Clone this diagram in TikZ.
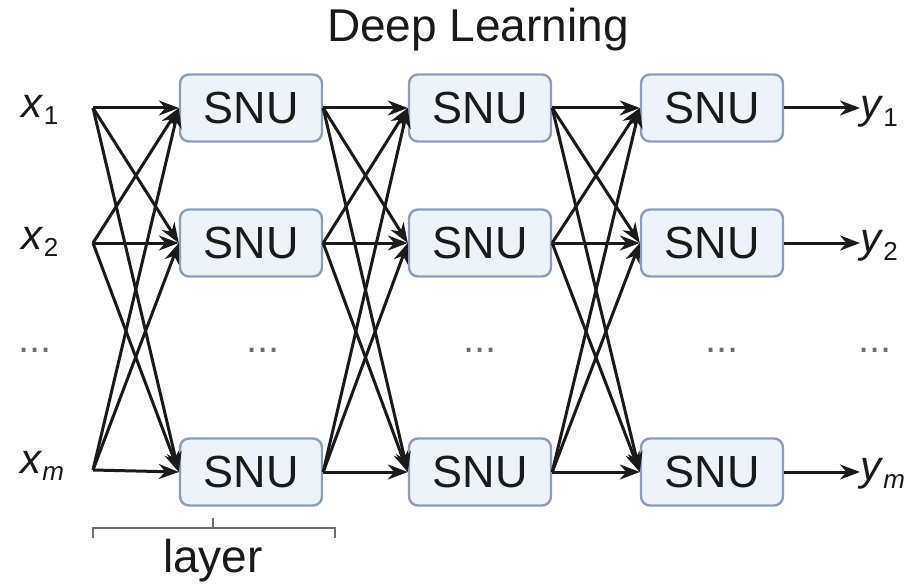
\documentclass[tikz,border=0pt]{standalone}
\usepackage{fontspec}
\setmainfont{Liberation Sans}
\usetikzlibrary{arrows.meta}
\definecolor{boxfill}{HTML}{EEF3FA}
\definecolor{boxedge}{HTML}{8C9DB5}
\definecolor{ink}{HTML}{1A1A1A}
\definecolor{dotgray}{HTML}{6E6E6E}
\newcommand\sublbl[2]{\textit{#1}\raisebox{-0.35ex}{\fontsize{26}{26}\selectfont #2}}
\begin{document}
\begin{tikzpicture}[x=1pt,y=-1pt,
  snu/.style={draw=boxedge, fill=boxfill, line width=2.4pt, rounded corners=9pt,
    minimum width=142pt, minimum height=67pt, inner sep=0pt, text=ink,
    font=\fontsize{45}{45}\selectfont},
  conn/.style={draw=ink, line width=3pt, -{Stealth[length=20pt,width=15pt]}},
  iolabel/.style={inner sep=0pt, text=ink, font=\fontsize{42}{42}\selectfont},
  dots/.style={inner sep=0pt, text=dotgray, font=\fontsize{40}{40}\selectfont},
  brace/.style={draw=dotgray, line width=1.8pt}
]
\useasboundingbox (0,0) rectangle (914,586);

% title
\node[inner sep=0pt, text=ink, font=\fontsize{46}{46}\selectfont] (title) at (478,30) {Deep Learning};

% inputs
\node[iolabel] (xl1) at (40,110) {\sublbl{x}{1}};
\node[iolabel] (xl2) at (40,242) {\sublbl{x}{2}};
\node[iolabel] (xlm) at (42,466) {\sublbl{x}{\textit{m}}};
\coordinate (in1) at (93,108);
\coordinate (in2) at (93,243);
\coordinate (inm) at (93,470);

% three layers of SNU boxes
\node[snu] (a1) at (251,108) {SNU};
\node[snu] (a2) at (251,243) {SNU};
\node[snu] (am) at (251,472) {SNU};
\node[snu] (b1) at (480,108) {SNU};
\node[snu] (b2) at (480,243) {SNU};
\node[snu] (bm) at (480,472) {SNU};
\node[snu] (c1) at (712,108) {SNU};
\node[snu] (c2) at (712,243) {SNU};
\node[snu] (cm) at (712,472) {SNU};

% outputs
\node[iolabel, anchor=west] (yl1) at (860,112) {\sublbl{y}{1}};
\node[iolabel, anchor=west] (yl2) at (860,246) {\sublbl{y}{2}};
\node[iolabel, anchor=west] (ylm) at (860,474) {\sublbl{y}{\textit{m}}};

% ellipsis row
\node[dots] (d0) at (35,350) {...};
\node[dots] (d1) at (263,350) {...};
\node[dots] (d2) at (480,350) {...};
\node[dots] (d3) at (722,350) {...};
\node[dots] (d4) at (875,350) {...};

% full connections
\foreach \s in {in1,in2,inm}
  \foreach \t in {a1,a2,am}
    \draw[conn] (\s) -- (\t.west);
\foreach \s in {a1,a2,am}
  \foreach \t in {b1,b2,bm}
    \draw[conn] (\s.east) -- (\t.west);
\foreach \s in {b1,b2,bm}
  \foreach \t in {c1,c2,cm}
    \draw[conn] (\s.east) -- (\t.west);
\draw[conn] (c1.east) -- (c1.east -| yl1.west);
\draw[conn] (c2.east) -- (c2.east -| yl2.west);
\draw[conn] (cm.east) -- (cm.east -| ylm.west);

% layer bracket
\coordinate (bl) at (93,528);
\coordinate (br) at (335,528);
\coordinate (bmid) at (213,528);
\draw[brace] ([yshift=-10pt]bl) -- (bl) -- (br) -- ([yshift=-10pt]br);
\draw[brace] (bmid) -- ([yshift=10pt]bmid);
\node[inner sep=0pt, text=ink, font=\fontsize{46}{46}\selectfont] (layer) at (213,561) {layer};
\end{tikzpicture}
\end{document}
